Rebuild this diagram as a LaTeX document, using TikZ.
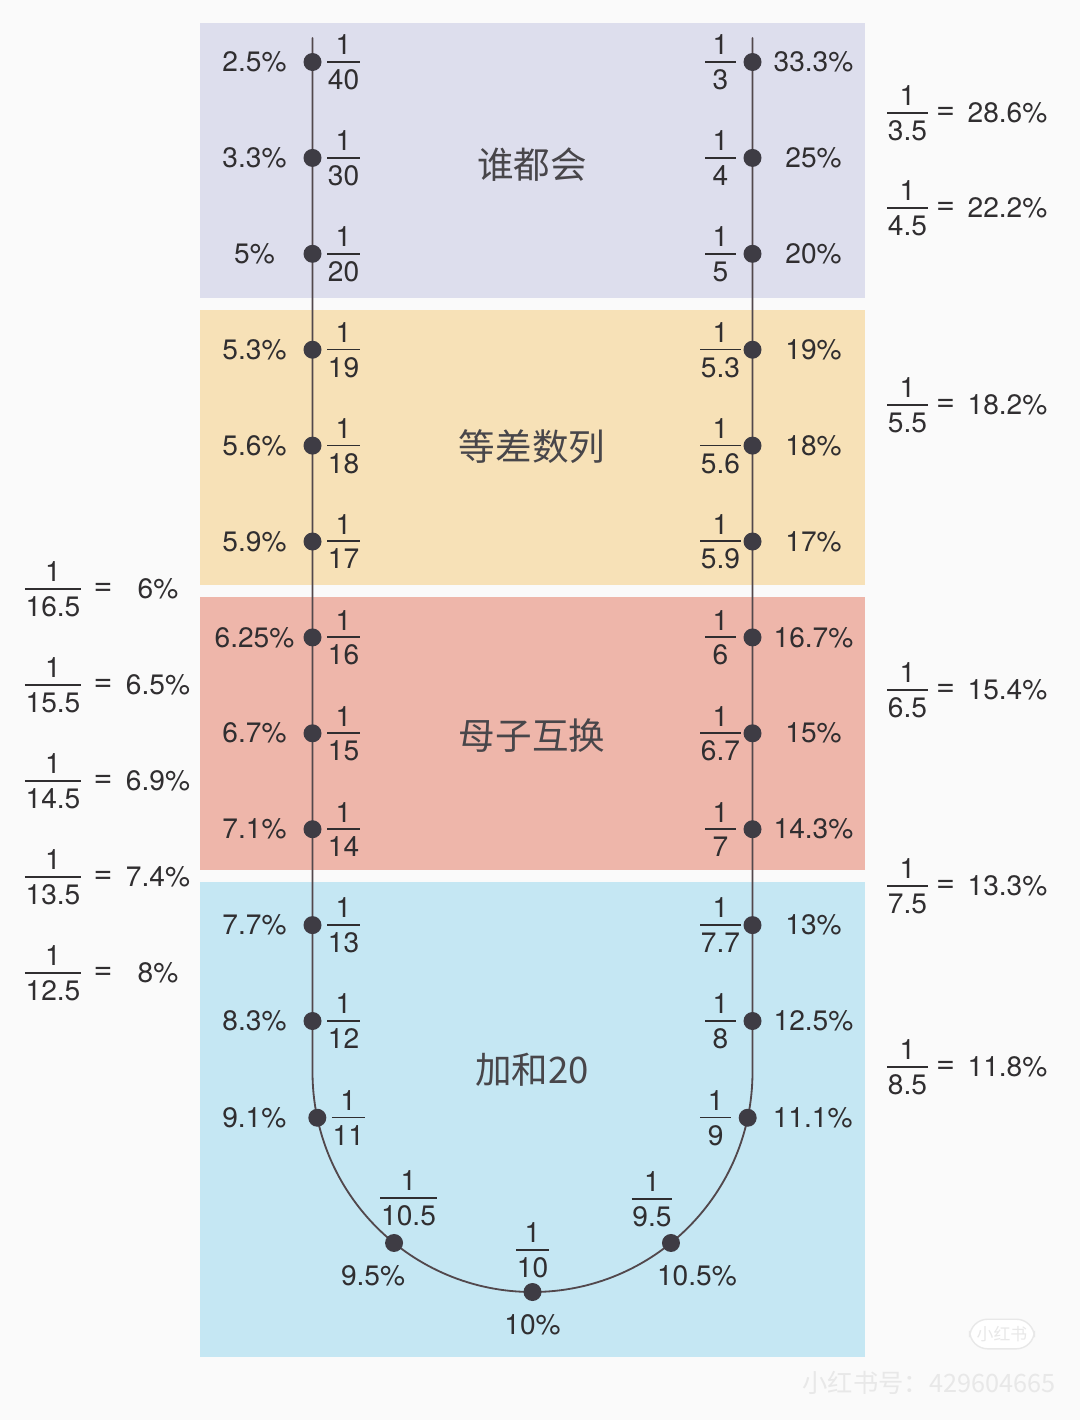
\documentclass[tikz,border=0pt]{standalone}
\usepackage{fontspec}
\setmainfont{TeX Gyre Heros}
\newfontfamily\cjk{Noto Sans CJK SC}
\definecolor{bgc}{RGB}{250,250,250}
\definecolor{bandA}{RGB}{221,222,237}
\definecolor{bandB}{RGB}{247,225,183}
\definecolor{bandC}{RGB}{238,182,170}
\definecolor{bandD}{RGB}{197,231,243}
\definecolor{txtc}{RGB}{48,46,48}
\definecolor{ttlc}{RGB}{72,70,74}
\definecolor{dotc}{RGB}{62,60,68}
\definecolor{linec}{RGB}{82,72,76}
\definecolor{wmc}{RGB}{232,232,232}
\newcommand\numsize{\fontsize{20pt}{24pt}\selectfont}
% stacked fraction 1 over d, bar on the row line
\newcommand\fr[2]{{\renewcommand\arraystretch{0.6}\setlength\arrayrulewidth{1.3pt}%
  \begin{tabular}{@{\hspace{0.5pt}}c@{\hspace{0.5pt}}}\makebox[21pt]{#1}\\\hline\rule{0pt}{19pt}#2\end{tabular}}}
\begin{document}
\begin{tikzpicture}[x=.25mm,y=-.25mm,line cap=round,
  dot/.style={circle,fill=dotc,inner sep=0pt,minimum size=4.5mm},
  lbl/.style={text=txtc,inner sep=0pt,font=\numsize},
  eq/.style={text=txtc,inner sep=0pt,font=\fontsize{23pt}{24pt}\selectfont},
  ttl/.style={text=ttlc,inner sep=0pt,font=\cjk\fontsize{26pt}{30pt}\selectfont},
  spine/.style={draw=linec,line width=1.3pt}]
  \useasboundingbox (0,0) rectangle (1080,1420);
  \fill[bgc] (0,0) rectangle (1080,1420);
  % bands
  \fill[bandA] (200,23) rectangle (865,298); \fill[bandB] (200,310) rectangle (865,585);
  \fill[bandC] (200,597) rectangle (865,870); \fill[bandD] (200,882) rectangle (865,1357);
  \node[ttl] (t1) at (532,165) {谁都会}; \node[ttl] (t2) at (532,447) {等差数列};
  \node[ttl] (t3) at (532,736) {母子互换}; \node[ttl] (t4) at (532,1070) {加和20};
  % the U line
  \coordinate (c) at (532.5,1072); \coordinate (ltop) at (312.5,38); \coordinate (rtop) at (752.5,38);
  \coordinate (lend) at (312.5,1072);
  \draw[spine] (ltop)--(lend) arc[start angle=180,end angle=0,radius=220]--(rtop);
  % left column
  \foreach \i/\p/\d in {0/2.5/40,1/3.3/30,2/5/20,3/5.3/19,4/5.6/18,5/5.9/17,6/6.25/16,7/6.7/15,8/7.1/14,9/7.7/13,10/8.3/12}{
    \node[dot] (l\i) at (312.5,62+95.9*\i) {};
    \path (l\i) ++(-58,0) node[lbl] (lp\i) {\p\%};
    \path (l\i) ++(31,3.2) node[lbl] (lf\i) {\fr{1}{\d}};
  }
  % right column
  \foreach \i/\p/\d in {0/33.3/3,1/25/4,2/20/5,3/19/5.3,4/18/5.6,5/17/5.9,6/16.7/6,7/15/6.7,8/14.3/7,9/13/7.7,10/12.5/8}{
    \node[dot] (r\i) at (752.5,62+95.9*\i) {};
    \path (r\i) ++(61,0) node[lbl] (rp\i) {\p\%};
    \path (r\i) ++(-32,3.2) node[lbl] (rf\i) {\fr{1}{\d}};
  }
  % bottom arc
  \foreach \a/\n in {168/a1,129/a2,90/a3,51/a4,12/a5} \path (c) ++(\a:220) node[dot] (\n) {};
  \path (a1) ++(-63,0) node[lbl] (ap1) {9.1\%}; \path (a1) ++(31,3.2) node[lbl] (af1) {\fr{1}{11}};
  \path (a2) ++(-21,33) node[lbl] (ap2) {9.5\%}; \path (a2) ++(14.5,-41.8) node[lbl] (af2) {\fr{1}{10.5}};
  \path (a3) ++(0,33) node[lbl] (ap3) {10\%}; \path (a3) ++(0,-38.8) node[lbl] (af3) {\fr{1}{10}};
  \path (a4) ++(26,33) node[lbl] (ap4) {10.5\%}; \path (a4) ++(-19,-40.8) node[lbl] (af4) {\fr{1}{9.5}};
  \path (a5) ++(65,0) node[lbl] (ap5) {11.1\%}; \path (a5) ++(-32,3.2) node[lbl] (af5) {\fr{1}{9}};
  % extra halves, left
  \foreach \i/\y/\d/\p in {1/589/16.5/6,2/685/15.5/6.5,3/781/14.5/6.9,4/877/13.5/7.4,5/973/12.5/8}{
    \node[lbl] (of\i) at (53,\y+3.2) {\fr{1}{\d}};
    \path (of\i) ++(50,-3.2) node[eq] (oe\i) {=} ++(55,0) node[lbl] (op\i) {\p\%};
  }
  % extra halves, right
  \foreach \i/\y/\d/\p in {1/113/3.5/28.6,2/208/4.5/22.2,3/405/5.5/18.2,4/690/6.5/15.4,5/886/7.5/13.3,6/1067/8.5/11.8}{
    \node[lbl] (qf\i) at (907.5,\y+3.2) {\fr{1}{\d}};
    \path (qf\i) ++(38,-3.2) node[eq] (qe\i) {=} ++(62,0) node[lbl] (qp\i) {\p\%};
  }
  % watermark
  \node[draw=wmc,line width=1pt,fill=white,rounded corners=4.5mm,text=wmc,inner sep=5pt,font=\cjk\fontsize{12pt}{12pt}\selectfont] (logo) at (1002,1334) {小红书};
  \node[text=wmc,inner sep=0pt,font=\cjk\fontsize{18pt}{20pt}\selectfont] (wm) at (929,1383) {小红书号：429604665};
\end{tikzpicture}
\end{document}
